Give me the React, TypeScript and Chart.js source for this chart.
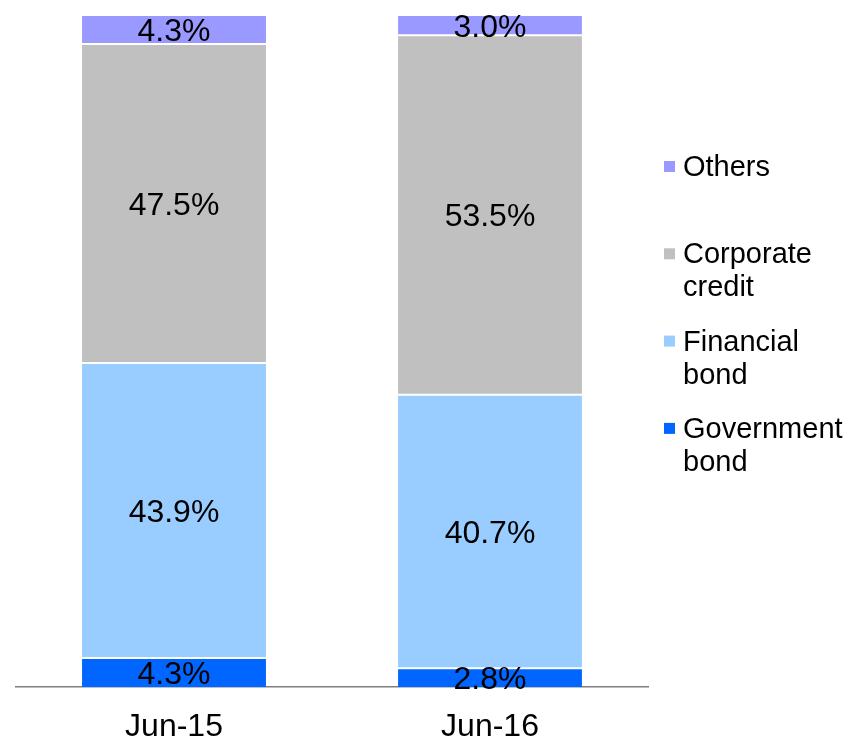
import React, { useEffect, useRef } from "react";
import { Chart, registerables } from "chart.js";

Chart.register(...registerables);

const FONT = "'Liberation Sans', Arial, Helvetica, sans-serif";

const categories = ["Jun-15", "Jun-16"];
const seriesNames = ["Government bond", "Financial bond", "Corporate credit", "Others"];
const governmentBond = [4.3, 2.8];
const financialBond = [43.9, 40.7];
const corporateCredit = [47.5, 53.5];
const others = [4.3, 3.0];
const seriesColors = ["#0066FF", "#99CCFF", "#C0C0C0", "#9999FF"];

const valueLabelPlugin = {
  id: "valueLabels",
  afterDatasetsDraw(chart: any) {
    const ctx = chart.ctx;
    ctx.save();
    ctx.font = `32px ${FONT}`;
    ctx.fillStyle = "#000000";
    ctx.textAlign = "center";
    ctx.textBaseline = "alphabetic";
    chart.data.datasets.forEach((ds: any, di: number) => {
      const meta = chart.getDatasetMeta(di);
      meta.data.forEach((el: any, i: number) => {
        const v = ds.data[i];
        const cy = (el.y + el.base) / 2;
        ctx.fillText(v.toFixed(1) + "%", el.x, cy + 11.5);
      });
    });
    ctx.restore();
  },
};

const sideLegendPlugin = {
  id: "sideLegend",
  afterDraw(chart: any) {
    const ctx = chart.ctx;
    const area = chart.chartArea;
    const boxX = area.right + 16;
    const textX = boxX + 19;
    const firstBaseline = 168;
    const step = 87.3;
    const lineGap = 33;
    ctx.save();
    ctx.font = `29px ${FONT}`;
    ctx.textAlign = "left";
    ctx.textBaseline = "alphabetic";
    const ds = chart.data.datasets;
    for (let k = 0; k < ds.length; k++) {
      const i = ds.length - 1 - k;
      const baseY = firstBaseline + k * step;
      ctx.fillStyle = ds[i].backgroundColor;
      ctx.fillRect(boxX, baseY - 15, 11, 11);
      ctx.fillStyle = "#000000";
      const lines = String(ds[i].label).split(" ");
      lines.forEach((t: string, j: number) => ctx.fillText(t, textX, baseY + j * lineGap));
    }
    ctx.restore();
  },
};

export default function App() {
  const ref = useRef<HTMLCanvasElement | null>(null);
  useEffect(() => {
    if (!ref.current) return;
    Chart.defaults.font.family = FONT;
    const values = [governmentBond, financialBond, corporateCredit, others];
    const chart = new Chart(ref.current, {
      type: "bar",
      data: {
        labels: categories,
        datasets: seriesNames.map((name, i) => ({
          label: name,
          data: values[i],
          backgroundColor: seriesColors[i],
          borderColor: "#FFFFFF",
          borderWidth: { top: 1, bottom: i === 0 ? 0 : 1, left: 0, right: 0 },
          borderSkipped: false,
          categoryPercentage: 1,
          barPercentage: 0.582,
        })),
      },
      options: {
        animation: false,
        responsive: true,
        maintainAspectRatio: false,
        layout: { padding: { top: 7, left: 8, right: 200, bottom: 0 } },
        plugins: {
          legend: { display: false },
          tooltip: { enabled: false },
        },
        scales: {
          x: {
            stacked: true,
            grid: { display: false, drawTicks: false },
            border: { display: true, color: "#808080", width: 1.5 },
            ticks: {
              color: "#000000",
              font: { size: 32, family: FONT },
              padding: 21,
              maxRotation: 0,
              autoSkip: false,
            },
            afterFit: (scale: any) => {
              scale.height = 59;
            },
          },
          y: {
            stacked: true,
            display: false,
            min: 0,
            max: 100,
          },
        },
      },
      plugins: [valueLabelPlugin, sideLegendPlugin],
    });
    return () => chart.destroy();
  }, []);
  return (
    <div style={{ position: "relative", width: 840, height: 738 }}>
      <canvas ref={ref} />
    </div>
  );
}
